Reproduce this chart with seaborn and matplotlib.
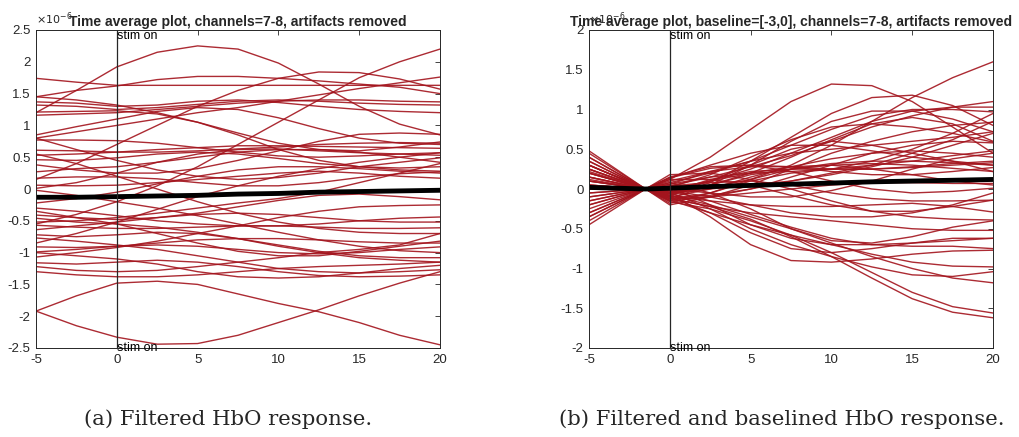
import numpy as np
import pandas as pd
import matplotlib
matplotlib.use("Agg")
import matplotlib.pyplot as plt
import seaborn as sns

# ---------------- data (values in units of 1e-6) ----------------
time_a = [-5, -2.5, 0, 2.5, 5, 7.5, 10, 12.5, 15, 17.5, 20]
time_b = [-5, -1.5, 0, 2.5, 5, 7.5, 10, 12.5, 15, 17.5, 20]

filtered_upper = [
    [1.20, 1.55, 1.92, 2.15, 2.25, 2.20, 1.98, 1.65, 1.30, 1.02, 0.85],
    [-0.55, -0.40, -0.20, 0.05, 0.35, 0.70, 1.05, 1.40, 1.75, 2.00, 2.20],
    [0.15, 0.40, 0.70, 1.00, 1.30, 1.55, 1.74, 1.84, 1.83, 1.73, 1.57],
    [1.74, 1.68, 1.63, 1.63, 1.63, 1.63, 1.63, 1.63, 1.63, 1.63, 1.63],
    [1.45, 1.55, 1.62, 1.72, 1.77, 1.77, 1.74, 1.70, 1.65, 1.60, 1.50],
    [0.80, 0.90, 1.00, 1.10, 1.20, 1.28, 1.38, 1.48, 1.58, 1.67, 1.76],
    [1.45, 1.40, 1.32, 1.20, 1.05, 0.85, 0.62, 0.45, 0.35, 0.30, 0.28],
    [1.37, 1.35, 1.30, 1.32, 1.38, 1.40, 1.36, 1.30, 1.25, 1.22, 1.20],
    [1.32, 1.30, 1.25, 1.28, 1.33, 1.38, 1.40, 1.38, 1.35, 1.33, 1.32],
    [1.21, 1.22, 1.23, 1.18, 1.05, 0.88, 0.72, 0.62, 0.60, 0.66, 0.74],
    [1.16, 1.18, 1.20, 1.25, 1.30, 1.35, 1.38, 1.40, 1.40, 1.38, 1.37],
    [0.85, 0.98, 1.10, 1.22, 1.28, 1.25, 1.12, 0.95, 0.80, 0.72, 0.70],
    [0.80, 0.62, 0.45, 0.30, 0.20, 0.15, 0.18, 0.25, 0.35, 0.42, 0.49],
    [0.77, 0.77, 0.76, 0.72, 0.65, 0.58, 0.52, 0.50, 0.52, 0.55, 0.57],
    [0.61, 0.60, 0.58, 0.58, 0.60, 0.63, 0.66, 0.70, 0.72, 0.73, 0.72],
    [0.53, 0.55, 0.58, 0.62, 0.65, 0.68, 0.68, 0.67, 0.66, 0.65, 0.64],
    [0.46, 0.45, 0.49, 0.55, 0.58, 0.55, 0.48, 0.40, 0.35, 0.33, 0.35],
    [0.38, 0.30, 0.25, 0.25, 0.32, 0.45, 0.60, 0.75, 0.86, 0.88, 0.86],
    [0.27, 0.32, 0.35, 0.42, 0.50, 0.58, 0.62, 0.62, 0.58, 0.50, 0.42],
    [0.17, 0.19, 0.19, 0.16, 0.10, 0.05, 0.05, 0.10, 0.18, 0.24, 0.27],
    [0.06, 0.05, 0.06, 0.10, 0.15, 0.20, 0.25, 0.28, 0.25, 0.20, 0.17],
    [0.01, 0.10, 0.25, 0.42, 0.55, 0.62, 0.63, 0.60, 0.57, 0.55, 0.53],
    [0.55, 0.40, 0.20, 0.00, -0.20, -0.38, -0.52, -0.62, -0.68, -0.70, -0.70],
]

filtered_lower = [
    [-0.02, -0.10, -0.20, -0.30, -0.42, -0.55, -0.68, -0.80, -0.90, -0.97, -1.00],
    [-0.22, -0.15, -0.05, 0.08, 0.20, 0.30, 0.35, 0.35, 0.32, 0.28, 0.25],
    [-0.30, -0.35, -0.42, -0.50, -0.55, -0.58, -0.58, -0.55, -0.50, -0.46, -0.44],
    [-0.41, -0.45, -0.48, -0.45, -0.38, -0.28, -0.18, -0.10, -0.08, -0.12, -0.17],
    [-0.46, -0.52, -0.55, -0.60, -0.68, -0.78, -0.90, -1.00, -1.08, -1.12, -1.15],
    [-0.52, -0.50, -0.45, -0.38, -0.30, -0.22, -0.15, -0.05, 0.10, 0.25, 0.40],
    [-0.57, -0.60, -0.62, -0.62, -0.60, -0.58, -0.58, -0.60, -0.62, -0.62, -0.61],
    [-0.64, -0.58, -0.52, -0.45, -0.40, -0.38, -0.40, -0.45, -0.50, -0.52, -0.52],
    [-0.72, -0.75, -0.72, -0.68, -0.70, -0.78, -0.88, -0.98, -1.05, -1.08, -1.08],
    [-0.77, -0.82, -0.88, -0.95, -1.05, -1.15, -1.25, -1.30, -1.32, -1.30, -1.27],
    [-0.91, -0.92, -0.90, -0.85, -0.80, -0.78, -0.78, -0.80, -0.83, -0.85, -0.85],
    [-0.99, -0.95, -0.90, -0.88, -0.90, -0.95, -1.00, -1.02, -1.00, -0.95, -0.91],
    [-1.07, -1.00, -0.92, -0.82, -0.70, -0.58, -0.45, -0.35, -0.28, -0.26, -0.25],
    [-1.16, -1.18, -1.15, -1.12, -1.15, -1.22, -1.30, -1.36, -1.38, -1.37, -1.35],
    [-1.22, -1.28, -1.30, -1.28, -1.22, -1.15, -1.08, -1.00, -0.95, -0.88, -0.70],
    [-1.30, -1.35, -1.38, -1.38, -1.35, -1.30, -1.25, -1.22, -1.20, -1.18, -1.15],
    [-1.00, -1.05, -1.10, -1.18, -1.30, -1.38, -1.40, -1.38, -1.32, -1.25, -1.20],
    [-0.35, -0.45, -0.55, -0.70, -0.85, -0.98, -1.05, -1.05, -0.98, -0.90, -0.82],
    [-0.85, -0.70, -0.52, -0.32, -0.12, 0.05, 0.20, 0.32, 0.42, 0.50, 0.57],
    [-1.92, -1.68, -1.48, -1.45, -1.50, -1.65, -1.80, -1.93, -2.10, -2.30, -2.45],
    [-1.92, -2.15, -2.33, -2.44, -2.43, -2.30, -2.10, -1.90, -1.68, -1.48, -1.30],
]

filtered_mean = [-0.13, -0.13, -0.12, -0.11, -0.10, -0.08, -0.07, -0.05, -0.04, -0.03, -0.02]

baselined_upper = [
    [-0.30, 0, 0.12, 0.40, 0.75, 1.10, 1.32, 1.30, 1.10, 0.78, 0.45],
    [0.10, 0, -0.04, 0.02, 0.12, 0.30, 0.55, 0.85, 1.15, 1.40, 1.60],
    [0.20, 0, -0.08, 0.08, 0.35, 0.65, 0.95, 1.15, 1.18, 1.05, 0.80],
    [0.30, 0, -0.12, 0.05, 0.30, 0.60, 0.85, 0.98, 0.98, 0.88, 0.72],
    [-0.10, 0, 0.04, 0.15, 0.28, 0.42, 0.60, 0.78, 0.92, 1.03, 1.10],
    [0.05, 0, -0.02, 0.10, 0.25, 0.45, 0.65, 0.85, 0.98, 1.03, 1.03],
    [-0.20, 0, 0.08, 0.20, 0.35, 0.55, 0.75, 0.92, 1.00, 1.00, 0.97],
    [0.40, 0, -0.15, -0.10, 0.05, 0.25, 0.45, 0.60, 0.72, 0.80, 0.84],
    [-0.05, 0, 0.02, 0.18, 0.40, 0.62, 0.78, 0.82, 0.78, 0.70, 0.59],
    [0.15, 0, -0.06, 0.05, 0.20, 0.40, 0.62, 0.82, 0.90, 0.82, 0.60],
    [0.25, 0, -0.10, 0.00, 0.15, 0.28, 0.38, 0.45, 0.48, 0.45, 0.40],
    [-0.15, 0, 0.06, 0.22, 0.35, 0.45, 0.50, 0.55, 0.60, 0.65, 0.72],
    [0.35, 0, -0.14, -0.05, 0.12, 0.25, 0.32, 0.35, 0.35, 0.33, 0.30],
    [0.10, 0, -0.04, 0.12, 0.22, 0.25, 0.25, 0.25, 0.27, 0.30, 0.33],
    [-0.25, 0, 0.10, 0.22, 0.28, 0.28, 0.25, 0.25, 0.28, 0.32, 0.35],
    [0.20, 0, -0.08, 0.05, 0.18, 0.25, 0.30, 0.32, 0.30, 0.26, 0.22],
    [-0.35, 0, 0.14, 0.26, 0.30, 0.28, 0.22, 0.18, 0.18, 0.22, 0.27],
    [0.45, 0, -0.18, -0.05, 0.10, 0.20, 0.25, 0.30, 0.35, 0.42, 0.48],
    [0.00, 0, 0.00, 0.10, 0.20, 0.28, 0.30, 0.25, 0.18, 0.10, 0.05],
    [0.48, 0, -0.20, -0.10, 0.00, 0.15, 0.30, 0.45, 0.55, 0.60, 0.58],
    [-0.35, 0, 0.14, 0.30, 0.45, 0.55, 0.55, 0.48, 0.40, 0.35, 0.30],
    [0.15, 0, -0.06, 0.10, 0.30, 0.50, 0.60, 0.55, 0.45, 0.35, 0.22],
    [-0.15, 0, 0.06, 0.15, 0.20, 0.22, 0.25, 0.35, 0.50, 0.70, 0.95],
    [0.12, 0, -0.05, 0.00, 0.05, 0.10, 0.18, 0.28, 0.40, 0.55, 0.70],
    [0.25, 0, -0.10, -0.08, 0.00, 0.10, 0.20, 0.30, 0.45, 0.62, 0.85],
]

baselined_lower = [
    [-0.40, 0, 0.15, 0.28, 0.30, 0.22, 0.10, 0.00, -0.05, -0.03, 0.01],
    [0.30, 0, -0.12, -0.10, -0.05, 0.00, 0.05, 0.08, 0.08, 0.07, 0.07],
    [-0.10, 0, 0.04, 0.08, 0.10, 0.05, -0.05, -0.12, -0.15, -0.15, -0.14],
    [0.22, 0, -0.09, -0.15, -0.20, -0.22, -0.22, -0.20, -0.18, -0.22, -0.29],
    [0.05, 0, -0.02, -0.10, -0.20, -0.30, -0.35, -0.35, -0.30, -0.20, -0.05],
    [-0.45, 0, 0.18, 0.20, 0.12, 0.00, -0.15, -0.28, -0.35, -0.38, -0.39],
    [0.30, 0, -0.12, -0.22, -0.30, -0.35, -0.40, -0.45, -0.50, -0.52, -0.52],
    [0.15, 0, -0.06, -0.35, -0.70, -0.90, -0.92, -0.88, -0.82, -0.78, -0.77],
    [0.25, 0, -0.10, -0.30, -0.55, -0.75, -0.80, -0.75, -0.68, -0.62, -0.62],
    [-0.05, 0, 0.02, -0.20, -0.45, -0.62, -0.70, -0.70, -0.68, -0.65, -0.62],
    [0.35, 0, -0.14, -0.30, -0.45, -0.58, -0.70, -0.82, -0.92, -0.97, -0.98],
    [0.10, 0, -0.04, -0.25, -0.50, -0.70, -0.85, -0.98, -1.08, -1.10, -1.04],
    [0.20, 0, -0.08, -0.20, -0.35, -0.50, -0.68, -0.85, -1.00, -1.12, -1.18],
    [0.30, 0, -0.12, -0.22, -0.38, -0.60, -0.85, -1.12, -1.38, -1.55, -1.62],
    [0.40, 0, -0.16, -0.25, -0.40, -0.58, -0.80, -1.05, -1.30, -1.48, -1.56],
    [-0.20, 0, 0.08, -0.05, -0.25, -0.50, -0.65, -0.68, -0.60, -0.48, -0.40],
    [0.05, 0, -0.02, -0.15, -0.32, -0.48, -0.62, -0.70, -0.72, -0.72, -0.75],
    [-0.30, 0, 0.12, 0.12, 0.05, -0.08, -0.20, -0.28, -0.28, -0.22, -0.14],
    [0.00, 0, 0.00, -0.05, -0.10, -0.10, -0.02, 0.10, 0.25, 0.38, 0.45],
]

baselined_mean = [0.02, 0, 0.01, 0.03, 0.045, 0.06, 0.075, 0.09, 0.10, 0.11, 0.12]

titles = ["Time average plot, channels=7-8, artifacts removed",
          "Time average plot, baseline=[-3,0], channels=7-8, artifacts removed"]
captions = ["(a) Filtered HbO response.", "(b) Filtered and baselined HbO response."]
y_limits = [(-2.5, 2.5), (-2.0, 2.0)]

# ---------------- styling ----------------
sns.set_style("white")
plt.rcParams["font.family"] = ["Liberation Sans", "DejaVu Sans"]
plt.rcParams["axes.unicode_minus"] = False

RED = "#a3141d"
INK = "#262626"


def long_frame(times, curves):
    rows = []
    for i, c in enumerate(curves):
        for t, v in zip(times, c):
            rows.append((i, t, v))
    return pd.DataFrame(rows, columns=["curve", "t", "v"])


fig = plt.figure(figsize=(10.2, 4.37), dpi=100)
W, H = 1020, 437
ax_a = fig.add_axes([36 / W, 89 / H, 404 / W, 318 / H])
ax_b = fig.add_axes([589 / W, 89 / H, 404 / W, 318 / H])

panels = [
    (ax_a, time_a, filtered_upper + filtered_lower, filtered_mean),
    (ax_b, time_b, baselined_upper + baselined_lower, baselined_mean),
]

for k, (ax, times, curves, mean) in enumerate(panels):
    df = long_frame(times, curves)
    sns.lineplot(data=df, x="t", y="v", units="curve", estimator=None,
                 color=RED, lw=1.0, alpha=0.9, ax=ax, legend=False)
    sns.lineplot(x=times, y=mean, color="black", lw=3.5, ax=ax, legend=False)
    lo, hi = y_limits[k]
    ax.set_xlim(-5, 20)
    ax.set_ylim(lo, hi)
    ax.axvline(0, color=INK, lw=0.9)
    ax.text(0.0, hi, "stim on", ha="left", va="top", fontsize=9, color="black")
    ax.text(0.0, lo, "stim on", ha="left", va="center", fontsize=9, color="black")
    ax.set_xticks([-5, 0, 5, 10, 15, 20])
    ax.set_yticks(np.arange(lo, hi + 0.01, 0.5))
    ax.yaxis.set_major_formatter(matplotlib.ticker.FormatStrFormatter("%g"))
    ax.xaxis.set_major_formatter(matplotlib.ticker.FormatStrFormatter("%g"))
    ax.tick_params(direction="in", length=3.5, width=0.6, colors=INK,
                   labelsize=9.5, top=True, right=True, pad=4)
    for s in ax.spines.values():
        s.set_color(INK)
        s.set_linewidth(0.7)
    ax.set_xlabel("")
    ax.set_ylabel("")
    ax.set_title(titles[k], fontsize=10, fontweight="bold", pad=3)
    ax.text(0.0, 1.008, r"$\times10^{-6}$", transform=ax.transAxes,
            ha="left", va="bottom", fontsize=8, color=INK)

fig.text(228 / W, 1 - 419 / H, captions[0], ha="center", va="center",
         family="DejaVu Serif", fontsize=15.3)
fig.text(782 / W, 1 - 419 / H, captions[1], ha="center", va="center",
         family="DejaVu Serif", fontsize=15.3)

fig.savefig("out.png", dpi=100, facecolor="white")
